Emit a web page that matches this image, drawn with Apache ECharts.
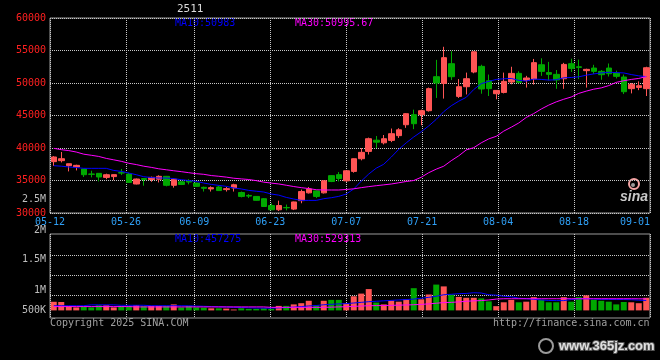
<!DOCTYPE html>
<html><head><meta charset="utf-8">
<script src="https://cdn.jsdelivr.net/npm/echarts@6/dist/echarts.min.js"></script>
<style>html,body{margin:0;padding:0;background:#000;}#c{width:660px;height:360px;}</style>
</head><body><div id="c"></div>
<script>
const dates = ['05-12','05-13','05-14','05-15','05-16','05-19','05-20','05-21','05-22','05-23',
'05-26','05-27','05-28','05-29','05-30','06-03','06-04','06-05','06-06','06-09',
'06-10','06-11','06-12','06-13','06-16','06-17','06-18','06-19','06-20','06-23',
'06-24','06-25','06-26','06-27','06-30','07-01','07-02','07-03','07-04','07-07',
'07-08','07-09','07-10','07-11','07-14','07-15','07-16','07-17','07-18','07-21',
'07-22','07-23','07-24','07-25','07-28','07-29','07-30','07-31','08-01','08-04',
'08-05','08-06','08-07','08-08','08-11','08-12','08-13','08-14','08-15','08-18',
'08-19','08-20','08-21','08-22','08-25','08-26','08-27','08-28','08-29','09-01'];
const tickLabels = ['05-12','05-26','06-09','06-23','07-07','07-21','08-04','08-18','09-01'];
const priceTicks = [30000,35000,40000,45000,50000,55000,60000];
const volTickLabels = ['500K','1M','1.5M','2M'];
const title = '2511';

const opens = [37900,38050,37280,37080,36770,36000,36100,35480,35600,36200,
36000,34460,35300,35150,35200,35640,34260,34800,34900,34600,
33950,33700,34000,33600,33850,33150,32700,32550,32200,31150,
30500,30850,30600,31900,33100,33400,33100,35750,35900,34950,
36400,38350,39480,41200,40800,41170,41900,43580,45130,45130,
45740,50970,49940,52970,47940,49430,51690,52560,50350,48350,
48550,50150,51480,50400,50620,52810,51600,51330,50660,52970,
52500,51900,52300,51790,52300,51540,50920,49130,49320,49130];
const closes = [38620,38350,37580,37330,35890,35950,35540,35890,35900,36150,
34700,35230,35150,35480,35640,34260,35200,34380,34760,34100,
33800,33900,33450,33750,34350,32550,32600,31950,31000,30500,
31150,30800,31700,33300,33700,32550,34950,34850,35300,36500,
38350,39330,41430,40900,41430,42200,42800,45280,43740,45740,
49130,50000,53900,50970,49430,50660,54800,49080,49130,48860,
50250,51480,50100,50770,53130,51790,51330,50460,52860,52250,
52400,52100,51790,51280,51430,51020,48660,49800,49580,52350];
const lows = [37250,37780,36400,36550,35540,35480,34860,35200,35050,35840,
34650,34400,34200,34800,34700,34100,33900,34300,34400,34000,
33300,33300,33400,33300,33300,32400,32300,31900,30950,30450,
30300,30400,30450,31500,33000,32300,33000,34750,34850,34800,
36200,38100,39000,40000,40550,40900,41550,43100,42900,43500,
45600,47700,47600,50450,47700,48240,51500,48350,48000,47500,
48400,49800,49950,49300,49750,51100,50400,49100,49100,51700,
50600,49300,51400,50500,51000,50700,48300,48400,48900,48000];
const highs = [38750,39390,37600,37430,36770,36500,36150,36050,35950,36770,
36200,35300,35350,35600,35800,35700,35300,34900,35200,34650,
34050,34100,34200,34000,34500,33300,32900,32600,32300,31500,
31900,31300,31750,33600,34000,33450,35000,35800,36300,36600,
38400,40000,41600,41850,42000,43000,43050,45350,45900,45900,
49300,53560,55570,54900,50600,51600,54900,52810,51300,48900,
51600,52500,51800,51100,53700,53800,53250,52000,53100,53740,
53600,52200,52800,52000,53000,51900,51300,50000,50250,52500];
const ma10 = [37280,37200,37080,37000,36870,36870,36870,36870,36550,36400,
36150,35890,35580,35450,35380,35380,35300,35120,35000,34860,
34610,34400,34250,34100,33850,33700,33480,33350,33230,32920,
32750,32400,32150,31940,31940,31940,32200,32350,32560,32920,
33700,34900,36000,36900,37500,38600,39800,40800,41700,42500,
43400,44400,45600,46500,47200,47800,49000,49900,50250,50550,
50650,50700,50400,50300,50600,50550,50450,50500,50800,50850,
50950,51200,51400,51550,51650,51600,51550,51300,51100,50983];
const ma30 = [39950,39740,39600,39380,39050,38880,38700,38400,38180,37950,
37650,37450,37200,37020,36800,36650,36500,36360,36200,36050,
35950,35760,35650,35520,35350,35250,35150,34980,34750,34600,
34470,34270,34070,33900,33760,33580,33540,33540,33540,33620,
33720,33900,34060,34200,34330,34460,34650,34850,35000,35500,
36200,36750,37200,38050,38800,39700,40050,40800,41400,41800,
42600,43200,43850,44700,45300,46000,46600,47100,47500,47850,
48400,48750,49050,49250,49600,50100,50350,50550,50700,50995.67];
const volumes = [396000,387000,194000,138000,166000,138000,234000,234000,138000,207000,
207000,248000,194000,207000,207000,207000,276000,138000,207000,138000,
124000,96000,96000,83000,41000,96000,69000,69000,96000,69000,
207000,207000,276000,331000,442000,234000,442000,483000,483000,331000,
649000,773000,981000,360000,276000,455000,401000,510000,1022000,510000,
732000,1187000,1104000,732000,621000,580000,580000,552000,414000,194000,
373000,483000,373000,401000,608000,483000,373000,373000,608000,401000,
608000,690000,483000,442000,401000,276000,387000,373000,331000,580000];
const volMa10 = [215000,215000,215000,215000,215000,255000,255000,255000,255000,235000,
235000,235000,235000,215000,215000,215000,215000,215000,210000,200000,
190000,175000,165000,155000,140000,135000,120000,110000,105000,105000,
115000,130000,150000,175000,205000,225000,260000,280000,300000,310000,
340000,370000,400000,420000,440000,460000,480000,500000,520000,560000,
600000,650000,720000,740000,770000,780000,813000,800000,720000,700000,
650000,630000,560000,537000,510000,480000,460000,450000,450000,500000,
530000,537000,520000,506000,506000,500000,500000,490000,470000,457275];
const volMa30 = [175000,175000,175000,175000,175000,175000,175000,175000,175000,175000,
175000,160000,160000,160000,160000,160000,160000,160000,160000,160000,
160000,160000,160000,160000,160000,160000,160000,160000,160000,140000,
140000,140000,140000,140000,140000,140000,140000,150000,160000,170000,
185000,200000,215000,220000,225000,232000,240000,250000,261000,275000,
300000,330000,360000,370000,390000,420000,440000,450000,480000,520000,
537000,537000,537000,537000,537000,537000,537000,537000,537000,537000,
537000,537000,537000,537000,537000,537000,537000,537000,533000,529313];

const RED = '#ff5555', GREEN = '#00a800', BLUE = '#0000ff', MAG = '#ff00ff';
const MONO = 'DejaVu Sans Mono';
const dotted = {color: '#c8c8c8', width: 1, type: [1, 1]};
const showTick = (i, v) => tickLabels.indexOf(v) >= 0;

const candleData = dates.map((d, i) => [opens[i], closes[i], lows[i], highs[i]]);
const volData = volumes.map((v, i) => ({value: v, itemStyle: {color: closes[i] >= opens[i] ? RED : GREEN}}));

const volLabelValues = [0, 920000, 2333000, 3515000];
const priceLabelValues = priceTicks.concat([32050]).sort((a, b) => a - b);

const chart = echarts.init(document.getElementById('c'), null, {renderer: 'canvas'});
chart.setOption({
  animation: false,
  backgroundColor: '#000',
  grid: [
    {left: 50, top: 18, width: 600, height: 195, show: true, borderColor: '#9a9a9a', borderWidth: 1, containLabel: false, outerBoundsMode: 'none'},
    {left: 50, top: 234, width: 600, height: 84, show: true, borderColor: '#9a9a9a', borderWidth: 1, containLabel: false, outerBoundsMode: 'none'}
  ],
  xAxis: [
    {gridIndex: 0, type: 'category', data: dates, boundaryGap: true, show: false},
    {gridIndex: 0, type: 'category', data: dates, boundaryGap: false, position: 'bottom',
      axisLine: {show: false}, axisTick: {show: false},
      axisLabel: {interval: showTick, color: '#2f9ff5', fontFamily: MONO, fontSize: 10, margin: 4, alignMaxLabel: 'right'},
      splitLine: {show: true, interval: showTick, lineStyle: dotted}},
    {gridIndex: 1, type: 'category', data: dates, boundaryGap: true, show: false},
    {gridIndex: 1, type: 'category', data: dates, boundaryGap: false, position: 'bottom',
      axisLine: {show: false}, axisTick: {show: false}, axisLabel: {show: false},
      splitLine: {show: true, interval: showTick, lineStyle: dotted}}
  ],
  yAxis: [
    {gridIndex: 0, type: 'value', min: 30000, max: 60000, interval: 5000,
      axisLine: {show: false}, axisTick: {show: false},
      splitLine: {show: true, lineStyle: dotted},
      axisLabel: {margin: 4, customValues: priceLabelValues,
        formatter: v => priceTicks.indexOf(v) >= 0 ? '{p|' + v + '}' : '{g|2.5M}',
        rich: {p: {color: '#ff2020', fontFamily: MONO, fontSize: 10}, g: {color: '#bdbdbd', fontFamily: MONO, fontSize: 10}}}},
    {gridIndex: 1, type: 'value', min: -350000, max: 3515000,
      axisLine: {show: false},
      axisTick: {show: false, customValues: [690000, 1629000, 2549000]},
      splitLine: {show: true, lineStyle: dotted},
      axisLabel: {margin: 4, customValues: volLabelValues,
        formatter: v => { const k = volLabelValues.indexOf(v); return k === 3 ? '{t|' + volTickLabels[k] + '}' : '{n|' + volTickLabels[k] + '}'; },
        rich: {n: {color: '#bdbdbd', fontFamily: MONO, fontSize: 10}, t: {color: '#bdbdbd', fontFamily: MONO, fontSize: 10, padding: [0, 0, 8, 0]}}}}
  ],
  series: [
    {type: 'candlestick', xAxisIndex: 0, yAxisIndex: 0, data: candleData, barWidth: 6,
      itemStyle: {color: RED, color0: GREEN, borderColor: RED, borderColor0: GREEN, borderWidth: 1}},
    {type: 'line', xAxisIndex: 0, yAxisIndex: 0, data: ma10, showSymbol: false, lineStyle: {color: BLUE, width: 1}, itemStyle: {color: BLUE}},
    {type: 'line', xAxisIndex: 0, yAxisIndex: 0, data: ma30, showSymbol: false, lineStyle: {color: MAG, width: 1}, itemStyle: {color: MAG}},
    {type: 'bar', xAxisIndex: 2, yAxisIndex: 1, data: volData, barWidth: 6},
    {type: 'line', xAxisIndex: 2, yAxisIndex: 1, data: volMa10, showSymbol: false, lineStyle: {color: BLUE, width: 1}, itemStyle: {color: BLUE}},
    {type: 'line', xAxisIndex: 2, yAxisIndex: 1, data: volMa30, showSymbol: false, lineStyle: {color: MAG, width: 1}, itemStyle: {color: MAG}}
  ],
  graphic: [
    {type: 'text', left: 177, top: 4, style: {text: title, fill: '#dcdcdc', font: '11px "DejaVu Sans Mono"'}},
    {type: 'text', left: 175, top: 18, style: {text: 'MA10:' + ma10[ma10.length - 1], fill: BLUE, font: '10px "DejaVu Sans Mono"'}},
    {type: 'text', left: 295, top: 18, style: {text: 'MA30:' + ma30[ma30.length - 1], fill: MAG, font: '10px "DejaVu Sans Mono"'}},
    {type: 'text', left: 175, top: 234, style: {text: 'MA10:' + volMa10[volMa10.length - 1], fill: BLUE, font: '10px "DejaVu Sans Mono"'}},
    {type: 'text', left: 295, top: 234, style: {text: 'MA30:' + volMa30[volMa30.length - 1], fill: MAG, font: '10px "DejaVu Sans Mono"'}},
    {type: 'text', left: 50, top: 318, style: {text: 'Copyright 2025 SINA.COM', fill: '#a0a0a0', font: '10px "DejaVu Sans Mono"'}},
    {type: 'text', left: 493, top: 318, style: {text: 'http://finance.sina.com.cn', fill: '#a0a0a0', font: '10px "DejaVu Sans Mono"'}},
    {type: 'circle', shape: {cx: 634, cy: 184, r: 5}, style: {fill: 'none', stroke: '#f3a3a3', lineWidth: 2}},
    {type: 'circle', shape: {cx: 633, cy: 185, r: 2}, style: {fill: '#9a9a9a'}},
    {type: 'text', left: 620, top: 190, style: {text: 'sina', fill: '#c8c8c8', font: 'italic bold 14px "Liberation Sans"'}},
    {type: 'circle', shape: {cx: 546, cy: 346, r: 7}, style: {fill: 'none', stroke: '#9a9a9a', lineWidth: 2}},
    {type: 'text', left: 558, top: 339, style: {text: 'www.365jz.com', fill: '#e0e0e0', stroke: '#555', lineWidth: 2, font: 'bold 13px "Liberation Sans"'}}
  ]
});
</script></body></html>
